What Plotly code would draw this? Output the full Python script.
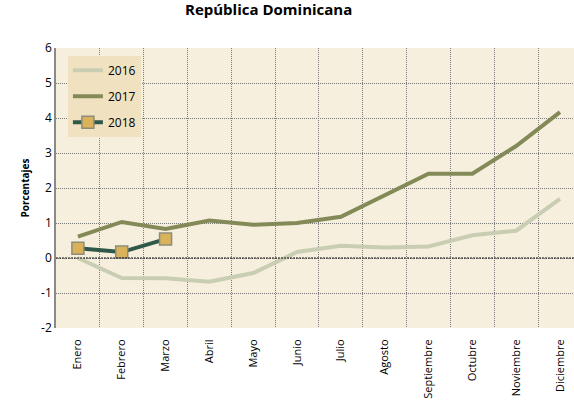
import plotly.graph_objects as go

months = ["Enero", "Febrero", "Marzo", "Abril", "Mayo", "Junio", "Julio",
          "Agosto", "Septiembre", "Octubre", "Noviembre", "Diciembre"]
s2016 = [0.0, -0.57, -0.58, -0.68, -0.43, 0.17, 0.35, 0.30, 0.33, 0.65, 0.78, 1.69]
s2017 = [0.61, 1.03, 0.83, 1.07, 0.95, 1.00, 1.18, 1.80, 2.41, 2.41, 3.20, 4.17]
s2018 = [0.28, 0.17, 0.54]
yticks = [-2, -1, 0, 1, 2, 3, 4, 5, 6]
yticklabels = ["-2", "-1", "0", "1", "2", "3", "4", "5", "6"]

x = list(range(len(months)))

fig = go.Figure()
fig.add_trace(go.Scatter(x=x, y=s2016, name="2016", mode="lines", legendgroup="a",
                         line=dict(color="#c9ceb2", width=4)))
fig.add_trace(go.Scatter(x=x, y=s2017, name="2017", mode="lines", legendgroup="b",
                         line=dict(color="#838a57", width=4)))
fig.add_trace(go.Scatter(x=x[:len(s2018)], y=s2018, name="2018", mode="lines+markers",
                         legendgroup="c",
                         line=dict(color="#2f5848", width=4),
                         marker=dict(symbol="square", size=12, color="#d9b25a",
                                     line=dict(color="#8f8c7c", width=1.5))))

fig.add_shape(type="line", xref="paper", yref="y", x0=0, x1=1, y0=0, y1=0,
              line=dict(color="#111111", width=1.2, dash="2px,1px"), layer="above")

fig.add_annotation(text="<b>República Dominicana</b>", xref="paper", yref="paper",
                   x=(268 - 56) / 518, y=(328 - 9) / 280, xanchor="center", yanchor="middle",
                   showarrow=False, font=dict(family="Open Sans", size=15, color="#000000"))

fig.update_layout(
    width=574, height=402,
    margin=dict(l=56, r=0, t=48, b=74),
    paper_bgcolor="white", plot_bgcolor="#f6efdd",
    font=dict(family="Open Sans", size=11, color="#000000"),
    showlegend=True,
    legend=dict(x=0.023, y=0.972, xanchor="left", yanchor="top",
                bgcolor="#f0e1c0", font=dict(size=12),
                itemwidth=30, tracegroupgap=7, traceorder="grouped"),
    xaxis=dict(range=[-0.5, 11.32], tickvals=x, ticktext=months, tickangle=-90,
               showgrid=False, zeroline=False, showline=False,
               ticks="outside", ticklen=6, tickcolor="rgba(0,0,0,0)",
               minor=dict(tickvals=[i + 0.5 for i in range(-1, 12)], showgrid=True,
                          gridcolor="#7a7a7a", griddash="1px,1px", gridwidth=1, ticks=""),
               tickfont=dict(size=11)),
    yaxis=dict(range=[-2, 6], tickvals=yticks, ticktext=yticklabels, showgrid=True,
               gridcolor="#7a7a7a", griddash="1px,1px", gridwidth=1, zeroline=False,
               showline=True, linecolor="#8a8a8a", linewidth=1.5, ticks="",
               title=dict(text="<b>Porcentajes</b>", font=dict(size=10), standoff=10),
               tickfont=dict(size=12)),
)

fig.write_html("out.html", config={"displayModeBar": False},
               post_script="document.body.style.margin='0px';")
